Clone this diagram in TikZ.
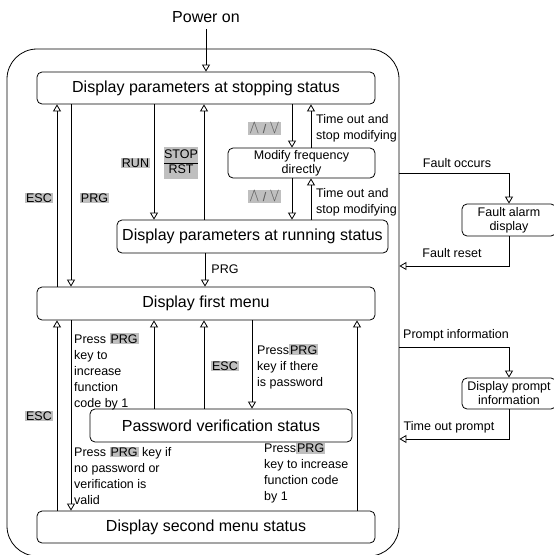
\documentclass[tikz,border=0pt]{standalone}
\usepackage{fontspec}
\usepackage{graphicx}
\setmainfont{Liberation Sans}
\usetikzlibrary{arrows.meta}
\definecolor{keygray}{gray}{0.75}
\newcommand{\keybox}[1]{{\setlength{\fboxsep}{1pt}\colorbox{keygray}{#1}}}
\newcommand{\updown}{\scalebox{1.25}[1.6]{$\wedge$} / \scalebox{1.25}[1.6]{$\vee$}}

\begin{document}
\begin{tikzpicture}[x=1pt,y=-1pt,
    state/.style={draw,rounded corners=5pt,line width=0.8pt,inner sep=0pt,
      font=\fontsize{16}{18}\selectfont},
    smallstate/.style={draw,rounded corners=5pt,line width=0.8pt,inner sep=0pt,
      align=center,font=\fontsize{12.5}{14}\selectfont},
    key/.style={fill=keygray,inner sep=1pt,font=\fontsize{12.5}{15}\selectfont},
    note/.style={inner sep=0pt,anchor=west,align=left,font=\fontsize{12.5}{16}\selectfont},
    arr/.style={line width=0.8pt,-{Triangle[open,width=8pt,length=7pt]}}]
  \useasboundingbox (0,0) rectangle (554,555);
  \node (frame) [draw,line width=0.8pt,rounded corners=30pt,minimum width=392pt,minimum height=507pt] at (203,302.5) {};
  \node (power) at (206,17) [font=\fontsize{16}{18}\selectfont,inner sep=6pt] {Power on};
  \node (stop) [state,minimum width=338pt,minimum height=32pt] at (206,88) {Display parameters at stopping status};
  \node (modify) [smallstate,minimum width=147pt,minimum height=30pt] at (301.5,163) {Modify frequency\\directly};
  \node (run) [state,minimum width=271pt,minimum height=33pt] at (252.5,236.5) {Display parameters at running status};
  \node (first) [state,minimum width=338pt,minimum height=33pt] at (206,303.5) {Display first menu};
  \node (pass) [state,minimum width=262pt,minimum height=33pt] at (221,425.5) {Password verification status};
  \node (second) [state,minimum width=338pt,minimum height=32pt] at (206,527) {Display second menu status};
  \node (fault) [smallstate,minimum width=94pt,minimum height=32pt] at (509,220) {Fault alarm\\display};
  \node (prompt) [smallstate,minimum width=94pt,minimum height=31pt] at (509,393.5) {Display prompt\\information};
  \coordinate (faultout) at (frame.east |- 0,173);
  \coordinate (faultin) at (frame.east |- 0,266);
  \coordinate (promptout) at (frame.east |- 0,347);
  \coordinate (promptin) at (frame.east |- 0,439);

  % upper part
  \draw [arr] (power) -- (stop);
  \draw [arr] (first.north -| 57,0) -- (stop.south -| 57,0);
  \draw [arr] (stop.south -| 71,0) -- (first.north -| 71,0);
  \draw [arr] (stop.south -| 154,0) -- (run.north -| 154,0);
  \draw [arr] (run.north -| 204,0) -- (stop.south -| 204,0);
  \draw [arr] (stop.south -| 292,0) -- (modify.north -| 292,0);
  \draw [arr] (modify.north -| 311,0) -- (stop.south -| 311,0);
  \draw [arr] (modify.south -| 292,0) -- (run.north -| 292,0);
  \draw [arr] (run.north -| 311,0) -- (modify.south -| 311,0);
  \draw [arr] (run.south -| 205,0) -- (first.north -| 205,0);
  \node [key] (escup) at (39,198) {ESC};
  \node [key] (prgup) at (94.5,198) {PRG};
  \node [key] (runkey) at (135.5,163) {RUN};
  \node [key,inner sep=0.5pt] (stopkey) at (181,163) {\begin{tabular}{@{}c@{}}STOP\\\hline RST\end{tabular}};
  \node [key,text=black!65] (updown1) at (264.5,128.5) {\updown};
  \node [key,text=black!65] (updown2) at (264.5,196.5) {\updown};
  \node [note] (timeout1) at (316,128) {Time out and\\stop modifying};
  \node [note] (timeout2) at (316,202) {Time out and\\stop modifying};
  \node [font=\fontsize{12.5}{15}\selectfont] (prgrun) at (225,269) {PRG};

  % lower part
  \draw [arr] (second.north -| 57,0) -- (first.south -| 57,0);
  \draw [arr] (first.south -| 71,0) -- (second.north -| 71,0);
  \draw [arr] (pass.north -| 154,0) -- (first.south -| 154,0);
  \draw [arr] (pass.north -| 204,0) -- (first.south -| 204,0);
  \draw [arr] (first.south -| 252,0) -- (pass.north -| 252,0);
  \draw [arr] (second.north -| 357,0) -- (first.south -| 357,0);
  \node [key] (esclow) at (39,416) {ESC};
  \node [key] (escmid) at (225,366) {ESC};
  \node [note] (incr1) at (74,371.5) {Press \keybox{PRG}\\key to\\increase\\function\\code by 1};
  \node [note] (haspw) at (257,366.5) {Press\keybox{PRG}\\key if there\\is password};
  \node [note] (nopw) at (74,475.5) {Press \keybox{PRG} key if\\no password or\\verification is\\valid};
  \node [note] (incr2) at (264,473) {Press\keybox{PRG}\\key to increase\\function code\\by 1};

  % right side
  \draw [arr] (faultout) -| (fault.north);
  \draw [arr] (fault.south) |- (faultin);
  \draw [arr] (promptout) -| (prompt.north);
  \draw [arr] (prompt.south) |- (promptin);
  \node [font=\fontsize{12.5}{15}\selectfont] (occurs) at (457,163) {Fault occurs};
  \node [font=\fontsize{12.5}{15}\selectfont] (reset) at (452,253) {Fault reset};
  \node [font=\fontsize{12.5}{15}\selectfont] (promptinfo) at (456,335) {Prompt information};
  \node [font=\fontsize{12.5}{15}\selectfont] (timeoutp) at (449,427) {Time out prompt};
\end{tikzpicture}
\end{document}
